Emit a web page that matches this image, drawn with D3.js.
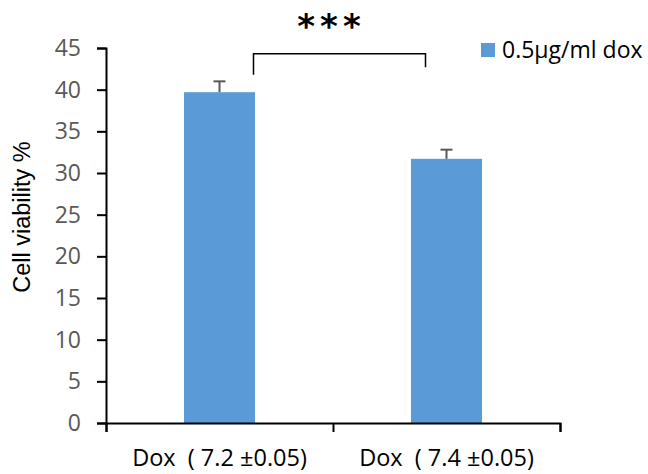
<!DOCTYPE html>
<html>
<head>
<meta charset="utf-8">
<script src="https://cdn.jsdelivr.net/npm/d3@7"></script>
<style>
  body { margin: 0; background: #fff; }
  svg { display: block; }
</style>
</head>
<body>
<div id="vis-holder"></div>
<script>
// chart data
const categories = ["Dox\u00a0\u00a0( 7.2 \u00b10.05)", "Dox\u00a0\u00a0( 7.4 \u00b10.05)"];
const viability = [39.7, 31.7];
const errors = [1.3, 1.1];
const yTicks = [0, 5, 10, 15, 20, 25, 30, 35, 40, 45];
const seriesName = "0.5\u03bcg/ml dox";
const sigLabel = "***";

const width = 648;
const height = 474;
const margin = { top: 48, right: 88, bottom: 51, left: 106 };

const barColor = "#5b9bd5";
const tickFont = "'Open Sans', sans-serif";

const svg = d3.select("#vis-holder")
  .append("svg")
  .attr("width", width)
  .attr("height", height);

// scales
const x = d3.scaleBand()
  .domain(d3.range(categories.length))
  .range([margin.left, width - margin.right])
  .paddingInner(0.687)
  .paddingOuter(0.3435);

const y = d3.scaleLinear()
  .domain([0, 45])
  .range([height - margin.bottom, margin.top]);

// bars
svg.selectAll(".bar")
  .data(viability)
  .enter()
  .append("rect")
  .attr("class", "bar")
  .attr("x", (d, i) => x(i))
  .attr("y", d => y(d))
  .attr("width", x.bandwidth())
  .attr("height", d => y(0) - y(d))
  .style("fill", barColor);

// error bars (upper only)
const errG = svg.append("g")
  .attr("stroke", "#595959")
  .attr("stroke-width", 2);

viability.forEach((v, i) => {
  const cx = x(i) + x.bandwidth() / 2;
  errG.append("line")
    .attr("x1", cx).attr("x2", cx)
    .attr("y1", y(v)).attr("y2", y(v + errors[i]));
  errG.append("line")
    .attr("x1", cx - 6).attr("x2", cx + 6)
    .attr("y1", y(v + errors[i])).attr("y2", y(v + errors[i]));
});

// y axis
svg.append("g")
  .attr("transform", `translate(${margin.left},0)`)
  .call(d3.axisLeft(y).tickValues(yTicks).tickSize(9).tickPadding(16))
  .call(g => g.select(".domain").attr("stroke", "#000").attr("stroke-width", 2))
  .call(g => g.selectAll(".tick line").attr("stroke", "#000").attr("stroke-width", 2))
  .call(g => g.selectAll(".tick text")
    .attr("fill", "#595959")
    .attr("font-family", tickFont)
    .attr("font-size", "23px"));

// x axis: ticks on category boundaries
const xLine = d3.scaleLinear().domain([0, 2]).range([margin.left, width - margin.right]);
svg.append("g")
  .attr("transform", `translate(0,${height - margin.bottom})`)
  .call(d3.axisBottom(xLine).tickValues([0, 1, 2]).tickSize(9).tickFormat(""))
  .call(g => g.select(".domain").attr("stroke", "#000").attr("stroke-width", 2))
  .call(g => g.selectAll(".tick line").attr("stroke", "#000").attr("stroke-width", 2));

// category labels
svg.selectAll(".cat")
  .data(categories)
  .enter()
  .append("text")
  .attr("class", "cat")
  .attr("x", (d, i) => x(i) + x.bandwidth() / 2)
  .attr("y", 466)
  .attr("text-anchor", "middle")
  .attr("font-family", tickFont)
  .attr("font-size", "23.5px")
  .attr("fill", "#000")
  .text(d => d);

// y axis title
svg.append("text")
  .attr("transform", `translate(30,217) rotate(-90)`)
  .attr("text-anchor", "middle")
  .attr("font-family", "'Liberation Sans', Arial, sans-serif")
  .attr("font-size", "23.5px")
  .attr("fill", "#000")
  .text("Cell viability %");

// significance bracket
const bx1 = x(0) + x.bandwidth() / 2 + 34;
const bx2 = x(1) + x.bandwidth() / 2 - 21;
svg.append("path")
  .attr("d", `M${bx1},${y(41.8)}V${y(44.3)}H${bx2}V${y(42.7)}`)
  .attr("fill", "none")
  .attr("stroke", "#000")
  .attr("stroke-width", 1.5);

svg.append("text")
  .attr("x", (bx1 + bx2) / 2 - 8)
  .attr("y", 38)
  .attr("text-anchor", "middle")
  .attr("font-family", "'DejaVu Sans', sans-serif")
  .attr("font-weight", "bold")
  .attr("font-size", "34px")
  .attr("letter-spacing", "5px")
  .attr("fill", "#000")
  .text(sigLabel);

// legend
const legend = svg.append("g").attr("transform", "translate(481,43)");
legend.append("rect")
  .attr("width", 14)
  .attr("height", 14)
  .style("fill", barColor);
legend.append("text")
  .attr("x", 21)
  .attr("y", 15)
  .attr("font-family", tickFont)
  .attr("font-size", "23px")
  .attr("fill", "#000")
  .text(seriesName);
</script>
</body>
</html>
